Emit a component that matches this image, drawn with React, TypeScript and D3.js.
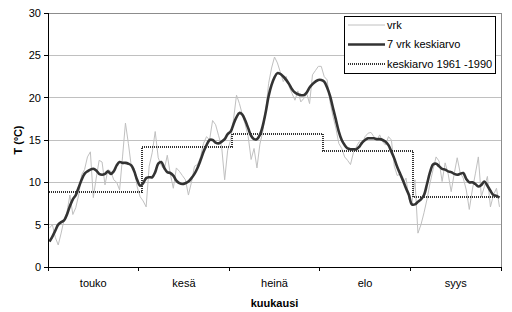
import React from "react";
import * as d3 from "d3";

const months = ["touko", "kesä", "heinä", "elo", "syys"];

// daily temperatures (vrk), one array per month
const mayDaily = [4.6, 5.0, 3.5, 2.6, 4.0, 5.6, 6.5, 8.5, 6.2, 7.0, 8.5, 10.9, 11.5, 13.0, 13.6, 8.2, 10.5, 12.6, 12.4, 9.7, 11.5, 11.3, 10.3, 10.0, 9.1, 13.0, 17.0, 14.6, 11.9, 11.7, 9.5];
const junDaily = [8.3, 7.8, 7.1, 11.9, 13.5, 16.0, 12.9, 12.0, 11.5, 13.2, 11.0, 9.3, 11.7, 11.3, 10.8, 10.3, 8.5, 10.0, 11.9, 12.1, 13.0, 14.6, 15.4, 15.0, 17.3, 16.8, 15.5, 14.2, 10.3, 13.8];
const julDaily = [15.0, 17.5, 20.3, 19.3, 18.0, 16.8, 15.4, 12.7, 14.0, 11.7, 14.5, 16.0, 18.5, 21.7, 23.5, 24.8, 24.1, 23.0, 21.9, 22.5, 21.3, 20.5, 19.7, 20.8, 19.5, 19.9, 20.5, 19.3, 22.7, 23.2, 23.7];
const augDaily = [23.7, 22.5, 22.1, 19.5, 17.8, 16.4, 14.6, 14.0, 13.0, 12.6, 12.1, 13.5, 14.2, 14.8, 14.5, 15.4, 15.8, 15.9, 15.4, 15.0, 15.6, 14.8, 14.4, 15.4, 15.0, 11.9, 10.8, 11.0, 9.9, 10.5, 8.0];
const sepDaily = [7.5, 10.3, 4.0, 5.0, 6.4, 8.0, 9.9, 11.5, 13.0, 12.5, 10.1, 12.3, 11.0, 8.9, 11.0, 12.9, 11.1, 10.5, 9.1, 6.8, 9.1, 11.0, 13.0, 8.3, 9.5, 10.7, 7.1, 8.5, 9.3, 7.1];

// 7 vrk keskiarvo
const mayAvg = [3.0, 3.6, 4.3, 5.0, 5.3, 5.5, 6.2, 7.2, 8.0, 8.5, 9.4, 10.3, 11.0, 11.3, 11.5, 11.6, 11.4, 11.0, 10.9, 11.0, 11.3, 11.0, 11.3, 12.0, 12.4, 12.3, 12.3, 12.2, 12.0, 11.3, 10.3];
const junAvg = [9.6, 9.9, 10.5, 10.6, 10.6, 11.2, 12.2, 12.4, 11.7, 11.2, 11.1, 10.8, 10.2, 9.9, 9.8, 9.9, 10.1, 10.5, 11.0, 11.7, 12.6, 13.6, 14.4, 15.0, 15.0, 14.7, 14.6, 14.8, 15.1, 15.7];
const julAvg = [16.0, 16.9, 17.7, 18.2, 18.0, 17.3, 16.4, 15.5, 15.1, 15.1, 15.6, 16.7, 18.3, 20.2, 21.5, 22.4, 22.9, 22.8, 22.5, 22.1, 21.6, 21.0, 20.6, 20.4, 20.3, 20.3, 20.6, 21.2, 21.6, 21.9, 22.1];
const augAvg = [22.1, 21.9, 21.2, 20.2, 18.8, 17.4, 16.0, 15.0, 14.4, 14.0, 13.9, 13.9, 13.9, 14.2, 14.7, 15.0, 15.2, 15.2, 15.2, 15.1, 15.1, 15.0, 14.8, 14.4, 13.6, 12.8, 11.8, 11.0, 10.2, 9.3, 8.5];
const sepAvg = [7.4, 7.4, 7.7, 8.0, 8.5, 9.8, 11.2, 12.1, 12.2, 11.9, 11.6, 11.5, 11.3, 11.2, 11.0, 10.9, 11.0, 11.1, 10.4, 10.0, 10.0, 9.8, 9.5, 9.7, 10.1, 9.6, 9.0, 8.5, 8.4, 8.2];

// keskiarvo 1961 -1990
const normals = [8.8, 14.2, 15.7, 13.7, 8.3];

const yTicks = [0, 5, 10, 15, 20, 25, 30];

const dailyByMonth = [mayDaily, junDaily, julDaily, augDaily, sepDaily];
const avgByMonth = [mayAvg, junAvg, julAvg, augAvg, sepAvg];

const W = 512;
const H = 312;
const margin = { top: 13, right: 11, bottom: 45, left: 48 };
const font = "'Liberation Sans', Arial, sans-serif";

export default function App() {
  const x0 = margin.left;
  const x1 = W - margin.right;
  const yTop = margin.top;
  const yBot = H - margin.bottom;

  const xMonth = d3.scaleBand().domain(months).range([x0, x1]).padding(0);
  const y = d3.scaleLinear().domain([0, 30]).range([yBot, yTop]);
  const bw = xMonth.bandwidth();

  // position of a day inside its month band
  const dayX = (m: number, i: number, n: number) =>
    (xMonth(months[m]) as number) + ((i + 0.5) / n) * bw;

  const toPoints = (arrs: number[][]) =>
    arrs.flatMap((arr, m) => arr.map((v, i) => [dayX(m, i, arr.length), v] as [number, number]));

  const dailyPts = toPoints(dailyByMonth);
  const avgPts = toPoints(avgByMonth);

  const stepPts: [number, number][] = [];
  normals.forEach((v, m) => {
    const n = dailyByMonth[m].length;
    const start = m === 0 ? dayX(0, 0, n) : (xMonth(months[m]) as number) + bw / n;
    const end = m === normals.length - 1 ? dayX(m, n - 1, n) : (xMonth(months[m + 1]) as number) + bw / dailyByMonth[m + 1].length;
    stepPts.push([start, v], [end, v]);
  });

  const line = d3.line<[number, number]>().x((d) => d[0]).y((d) => y(d[1]));
  const smooth = d3
    .line<[number, number]>()
    .x((d) => d[0])
    .y((d) => y(d[1]))
    .curve(d3.curveCatmullRom.alpha(0.5));

  const monthTicks = [...months.map((m) => xMonth(m) as number), x1];

  const legendX = 344;
  const legendY = 16.5;
  const legendRows = [
    { label: "vrk", stroke: "#c0c0c0", width: 1, dash: undefined },
    { label: "7 vrk keskiarvo", stroke: "#333333", width: 2.6, dash: undefined },
    { label: "keskiarvo 1961 -1990", stroke: "#333333", width: 2, dash: "1,1" },
  ];

  return (
    <svg
      width={W}
      height={H}
      style={{ position: "absolute", left: 0, top: 0, background: "#fff", fontFamily: font }}
    >
      {/* grid */}
      {yTicks.map((t) => (
        <line
          key={t}
          x1={x0}
          x2={x1}
          y1={y(t)}
          y2={y(t)}
          stroke={t === 30 ? "#8c8c8c" : "#c0c0c0"}
          strokeWidth={1}
          shapeRendering="crispEdges"
        />
      ))}
      <line x1={x1} x2={x1} y1={yTop} y2={yBot} stroke="#8c8c8c" shapeRendering="crispEdges" />

      {/* series */}
      <path d={line(dailyPts) ?? ""} fill="none" stroke="#c0c0c0" strokeWidth={1} />
      <path d={line(stepPts) ?? ""} fill="none" stroke="#333" strokeWidth={2} strokeDasharray="1,1" shapeRendering="crispEdges" />
      <path d={smooth(avgPts) ?? ""} fill="none" stroke="#333" strokeWidth={2.6} strokeLinejoin="round" />

      {/* y axis */}
      <line x1={x0} x2={x0} y1={yTop} y2={yBot} stroke="#000" shapeRendering="crispEdges" />
      {yTicks.map((t) => (
        <g key={t}>
          <line x1={x0 - 4} x2={x0} y1={y(t)} y2={y(t)} stroke="#000" shapeRendering="crispEdges" />
          <text x={x0 - 7} y={y(t)} dy="0.35em" textAnchor="end" fontSize={11}>
            {t}
          </text>
        </g>
      ))}

      {/* x axis */}
      <line x1={x0} x2={x1} y1={yBot} y2={yBot} stroke="#000" shapeRendering="crispEdges" />
      {monthTicks.map((tx, i) => (
        <line key={i} x1={tx} x2={tx} y1={yBot} y2={yBot + 4} stroke="#000" shapeRendering="crispEdges" />
      ))}
      {months.map((m) => (
        <text key={m} x={(xMonth(m) as number) + bw / 2} y={287} textAnchor="middle" fontSize={11}>
          {m}
        </text>
      ))}

      {/* titles */}
      <text x={(x0 + x1) / 2} y={307} textAnchor="middle" fontSize={11} fontWeight="bold">
        kuukausi
      </text>
      <text
        transform={`translate(22,${(yTop + yBot) / 2}) rotate(-90)`}
        textAnchor="middle"
        fontSize={11}
        fontWeight="bold"
      >
        T (ºC)
      </text>

      {/* legend */}
      <rect x={legendX + 0.5} y={legendY} width={151} height={57} fill="#fff" stroke="#000" shapeRendering="crispEdges" />
      {legendRows.map((r, i) => {
        const ry = legendY + 8.5 + i * 19.5;
        return (
          <g key={r.label}>
            <line x1={legendX + 4} x2={legendX + 41} y1={ry} y2={ry} stroke={r.stroke} strokeWidth={r.width} strokeDasharray={r.dash} />
            <text x={legendX + 43} y={ry} dy="0.35em" fontSize={11}>
              {r.label}
            </text>
          </g>
        );
      })}
    </svg>
  );
}
